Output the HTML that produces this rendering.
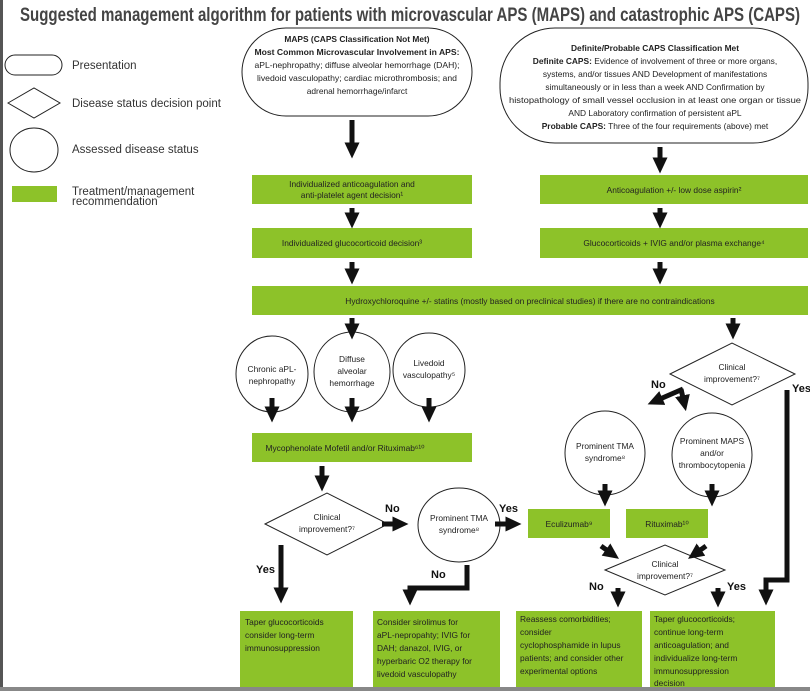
<!DOCTYPE html>
<html><head><meta charset="utf-8"><style>
body{margin:0;background:#fff;width:810px;height:691px;overflow:hidden}
svg{display:block;font-family:"Liberation Sans",sans-serif}
.g{fill:#8dc229}
.t{font-size:8.4px;fill:#222}
</style></head><body>
<svg width="810" height="691" viewBox="0 0 810 691">
<defs>
<marker id="a" markerWidth="3.2" markerHeight="3" refX="0.5" refY="1.5" orient="auto" markerUnits="strokeWidth">
<path d="M0,0 L3.2,1.5 L0,3 Z" fill="#111"/></marker>
</defs>
<rect x="0" y="0" width="3" height="691" fill="#555"/>
<rect x="0" y="687" width="810" height="4" fill="#888"/>
<text x="20" y="21" font-size="19" font-weight="bold" fill="#444" textLength="780" lengthAdjust="spacingAndGlyphs">Suggested management algorithm for patients with microvascular APS (MAPS) and catastrophic APS (CAPS)</text>

<g fill="none" stroke="#222" stroke-width="1">
<rect x="5" y="55" width="57" height="20" rx="10"/>
<polygon points="8,103 34,88 60,103 34,118"/>
<ellipse cx="34" cy="150" rx="24" ry="22"/>
</g>
<rect x="12" y="186" width="45" height="16" class="g"/>
<g font-size="11.5" fill="#333">
<text x="72" y="69">Presentation</text>
<text x="72" y="107">Disease status decision point</text>
<text x="72" y="153">Assessed disease status</text>
<text x="72" y="195">Treatment/management</text>
<text x="72" y="205">recommendation</text>
</g>

<g fill="none" stroke="#222" stroke-width="1">
<rect x="242" y="28" width="230" height="88" rx="44"/>
<rect x="500" y="28" width="308" height="115" rx="55"/>
</g>
<g class="t" text-anchor="middle">
<text x="357" y="42" font-weight="bold">MAPS (CAPS Classification Not Met)</text>
<text x="357" y="55" font-weight="bold" textLength="205" lengthAdjust="spacingAndGlyphs">Most Common Microvascular Involvement in APS:</text>
<text x="357" y="68" textLength="205" lengthAdjust="spacingAndGlyphs">aPL-nephropathy; diffuse alveolar hemorrhage (DAH);</text>
<text x="357" y="81" textLength="200" lengthAdjust="spacingAndGlyphs">livedoid vasculopathy; cardiac microthrombosis; and</text>
<text x="357" y="94">adrenal hemorrhage/infarct</text>
<text x="655" y="51" font-weight="bold">Definite/Probable CAPS Classification Met</text>
<text x="655" y="64"><tspan font-weight="bold">Definite CAPS:</tspan> Evidence of involvement of three or more organs,</text>
<text x="655" y="77">systems, and/or tissues AND Development of manifestations</text>
<text x="655" y="90">simultaneously or in less than a week AND Confirmation by</text>
<text x="655" y="103" textLength="292" lengthAdjust="spacingAndGlyphs">histopathology of small vessel occlusion in at least one organ or tissue</text>
<text x="655" y="116">AND Laboratory confirmation of persistent aPL</text>
<text x="655" y="129"><tspan font-weight="bold">Probable CAPS:</tspan> Three of the four requirements (above) met</text>
</g>

<rect x="252" y="175" width="220" height="29" class="g"/>
<rect x="540" y="175" width="268" height="29" class="g"/>
<rect x="252" y="228" width="220" height="30" class="g"/>
<rect x="540" y="228" width="268" height="30" class="g"/>
<rect x="252" y="286" width="556" height="29" class="g"/>
<rect x="252" y="433" width="220" height="29" class="g"/>
<rect x="528" y="509" width="82" height="29" class="g"/>
<rect x="626" y="509" width="82" height="29" class="g"/>
<rect x="240" y="611" width="113" height="76" class="g"/>
<rect x="373" y="611" width="127" height="76" class="g"/>
<rect x="516" y="611" width="126" height="76" class="g"/>
<rect x="650" y="611" width="125" height="76" class="g"/>
<g class="t" text-anchor="middle">
<text x="352" y="187">Individualized anticoagulation and</text>
<text x="352" y="198">anti-platelet agent decision¹</text>
<text x="674" y="193">Anticoagulation +/- low dose aspirin²</text>
<text x="352" y="246">Individualized glucocorticoid decision³</text>
<text x="674" y="246">Glucocorticoids + IVIG and/or plasma exchange⁴</text>
<text x="530" y="304">Hydroxychloroquine +/- statins (mostly based on preclinical studies) if there are no contraindications</text>
<text x="345" y="451">Mycophenolate Mofetil and/or Rituximab⁶¹⁰</text>
<text x="569" y="527">Eculizumab⁹</text>
<text x="667" y="527">Rituximab¹⁰</text>
</g>
<g class="t" font-size="9.2">
<text x="245" y="625">Taper glucocorticoids</text>
<text x="245" y="638">consider long-term</text>
<text x="245" y="651">immunosuppression</text>
<text x="377" y="625">Consider sirolimus for</text>
<text x="377" y="638">aPL-nepropahty; IVIG for</text>
<text x="377" y="651">DAH; danazol, IVIG, or</text>
<text x="377" y="664">hyperbaric O2 therapy for</text>
<text x="377" y="677">livedoid vasculopathy</text>
<text x="520" y="622">Reassess comorbidities;</text>
<text x="520" y="635">consider</text>
<text x="520" y="648">cyclophosphamide in lupus</text>
<text x="520" y="661">patients; and consider other</text>
<text x="520" y="674">experimental options</text>
<text x="654" y="622">Taper glucocorticoids;</text>
<text x="654" y="635">continue long-term</text>
<text x="654" y="648">anticoagulation; and</text>
<text x="654" y="661">individualize long-term</text>
<text x="654" y="674">immunosuppression</text>
<text x="654" y="686">decision</text>
</g>

<g fill="#fff" stroke="#222" stroke-width="1">
<ellipse cx="272" cy="374" rx="36" ry="38"/>
<ellipse cx="352" cy="372" rx="38" ry="40"/>
<ellipse cx="429" cy="370" rx="36" ry="37"/>
<ellipse cx="605" cy="453" rx="40" ry="42"/>
<ellipse cx="712" cy="455" rx="40" ry="42"/>
<ellipse cx="459" cy="525" rx="41" ry="37"/>
<polygon points="265,524 327,493 388,524 327,555"/>
<polygon points="670,374 732,343 795,374 732,405"/>
<polygon points="605,570 665,545 725,570 665,595"/>
</g>
<g class="t" text-anchor="middle" font-size="8.2">
<text x="272" y="372">Chronic aPL-</text><text x="272" y="384">nephropathy</text>
<text x="352" y="362">Diffuse</text><text x="352" y="374">alveolar</text><text x="352" y="386">hemorrhage</text>
<text x="429" y="366">Livedoid</text><text x="429" y="378">vasculopathy⁵</text>
<text x="605" y="449">Prominent TMA</text><text x="605" y="461">syndrome⁸</text>
<text x="712" y="444">Prominent MAPS</text><text x="712" y="456">and/or</text><text x="712" y="468">thrombocytopenia</text>
<text x="459" y="521">Prominent TMA</text><text x="459" y="533">syndrome⁸</text>
<text x="327" y="520">Clinical</text><text x="327" y="532">improvement?⁷</text>
<text x="732" y="370">Clinical</text><text x="732" y="382">improvement?⁷</text>
<text x="665" y="567">Clinical</text><text x="665" y="579">improvement?⁷</text>
</g>

<g stroke="#111" stroke-width="5" fill="none" marker-end="url(#a)">
<line x1="352" y1="120" x2="352" y2="145"/>
<line x1="660" y1="147" x2="660" y2="160"/>
<line x1="352" y1="208" x2="352" y2="215"/>
<line x1="660" y1="208" x2="660" y2="215"/>
<line x1="352" y1="262" x2="352" y2="271"/>
<line x1="660" y1="262" x2="660" y2="271"/>
<line x1="352" y1="318" x2="352" y2="326"/>
<line x1="733" y1="318" x2="733" y2="326"/>
<line x1="272" y1="398" x2="272" y2="409"/>
<line x1="352" y1="398" x2="352" y2="409"/>
<line x1="429" y1="398" x2="429" y2="409"/>
<line x1="322" y1="466" x2="322" y2="478"/>
<line x1="382" y1="524" x2="395" y2="524"/>
<line x1="495" y1="524" x2="508" y2="524"/>
<line x1="281" y1="545" x2="281" y2="590"/>
<polyline points="467,565 467,588 410,588 410,592"/>
<line x1="683" y1="389" x2="660" y2="399"/>
<line x1="681" y1="389" x2="683" y2="398"/>
<polyline points="787,390 787,580 766,580 766,592"/>
<line x1="605" y1="484" x2="605" y2="493"/>
<line x1="712" y1="484" x2="712" y2="493"/>
<line x1="601" y1="546" x2="608" y2="551"/>
<line x1="706" y1="546" x2="699" y2="551"/>
<line x1="618" y1="588" x2="618" y2="594"/>
<line x1="718" y1="588" x2="718" y2="594"/>
</g>
<g font-weight="bold" font-size="11" fill="#111">
<text x="385" y="512">No</text>
<text x="499" y="512">Yes</text>
<text x="256" y="573">Yes</text>
<text x="431" y="578">No</text>
<text x="651" y="388">No</text>
<text x="792" y="392">Yes</text>
<text x="589" y="590">No</text>
<text x="727" y="590">Yes</text>
</g>
</svg>
</body></html>
